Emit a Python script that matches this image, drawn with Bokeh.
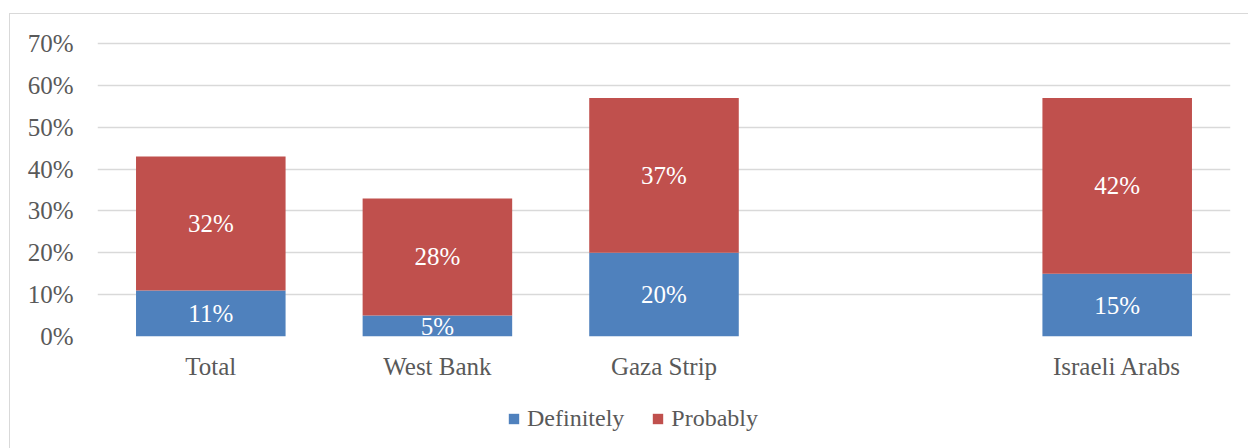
from bokeh.plotting import figure
from bokeh.layouts import column
from bokeh.models import (ColumnDataSource, FactorRange, Range1d, PrintfTickFormatter,
                          LabelSet, Legend, LegendItem, FixedTicker)
from bokeh.embed import file_html
from bokeh.resources import INLINE

categories = ["Total", "West Bank", "Gaza Strip", "Israeli Arabs"]
slots = ["Total", "West Bank", "Gaza Strip", " ", "Israeli Arabs"]
definitely = [11, 5, 20, 15]
probably = [32, 28, 37, 42]
series = ["Definitely", "Probably"]
colors = ["#4F81BD", "#C0504D"]
y_ticks = [0, 10, 20, 30, 40, 50, 60, 70]

FONT = "Liberation Serif"
GREY = "#595959"

src = ColumnDataSource(dict(
    cat=categories,
    Definitely=definitely,
    Probably=probably,
    d_mid=[d / 2 for d in definitely],
    p_mid=[d + p / 2 for d, p in zip(definitely, probably)],
    d_lab=[f"{d}%" for d in definitely],
    p_lab=[f"{p}%" for p in probably],
))

p = figure(width=1238, height=380, x_range=FactorRange(factors=slots),
           y_range=Range1d(0, 70.5), output_backend="svg", toolbar_location=None,
           min_border_left=87, min_border_right=18, min_border_top=27,
           min_border_bottom=58)
p.x_range.range_padding = 0
p.outline_line_color = None

p.vbar_stack(series, x="cat", width=0.66, color=colors, source=src, line_color=None)

for y, t in (("d_mid", "d_lab"), ("p_mid", "p_lab")):
    p.add_layout(LabelSet(x="cat", y=y, text=t, source=src, text_align="center",
                          text_baseline="middle", text_color="white",
                          text_font=FONT, text_font_size="25px"))

p.xgrid.grid_line_color = None
p.ygrid.grid_line_color = "#d9d9d9"
p.ygrid.grid_line_width = 1.5
p.yaxis.ticker = FixedTicker(ticks=y_ticks)
p.yaxis.formatter = PrintfTickFormatter(format="%d%%")

for ax in (p.xaxis, p.yaxis):
    ax.axis_line_color = None
    ax.major_tick_line_color = None
    ax.minor_tick_line_color = None
    ax.major_tick_out = 0
    ax.major_tick_in = 0
    ax.major_label_text_font = FONT
    ax.major_label_text_font_size = "25px"
    ax.major_label_text_color = GREY
p.yaxis.major_label_standoff = 24
p.xaxis.major_label_standoff = 16

# legend strip (swatch renderers sit outside the visible range)
lf = figure(width=1238, height=54, x_range=Range1d(0, 1), y_range=Range1d(0, 1),
            output_backend="svg", toolbar_location=None,
            min_border_left=0, min_border_right=0, min_border_top=0, min_border_bottom=0)
lf.axis.visible = False
lf.grid.grid_line_color = None
lf.outline_line_color = None
swatch = ColumnDataSource(dict(x=[-10], top=[-10]))
lrs = [lf.vbar(x="x", top="top", width=0.1, source=swatch, fill_color=c, line_color=None)
       for c in colors]
legend = Legend(items=[LegendItem(label=s, renderers=[r]) for s, r in zip(series, lrs)],
                orientation="horizontal", location=(410, 16),
                glyph_width=13, glyph_height=13, label_standoff=7, spacing=27,
                label_text_font=FONT, label_text_font_size="24px",
                label_text_color=GREY, border_line_color=None,
                background_fill_alpha=0, padding=0, margin=0)
lf.add_layout(legend, "center")

layout = column(p, lf, spacing=0)
layout.styles = {"margin-left": "9px", "margin-top": "13px",
                 "border-left": "1.5px solid #d9d9d9", "border-top": "1.5px solid #d9d9d9"}

open("out.html", "w").write(file_html(layout, INLINE))
